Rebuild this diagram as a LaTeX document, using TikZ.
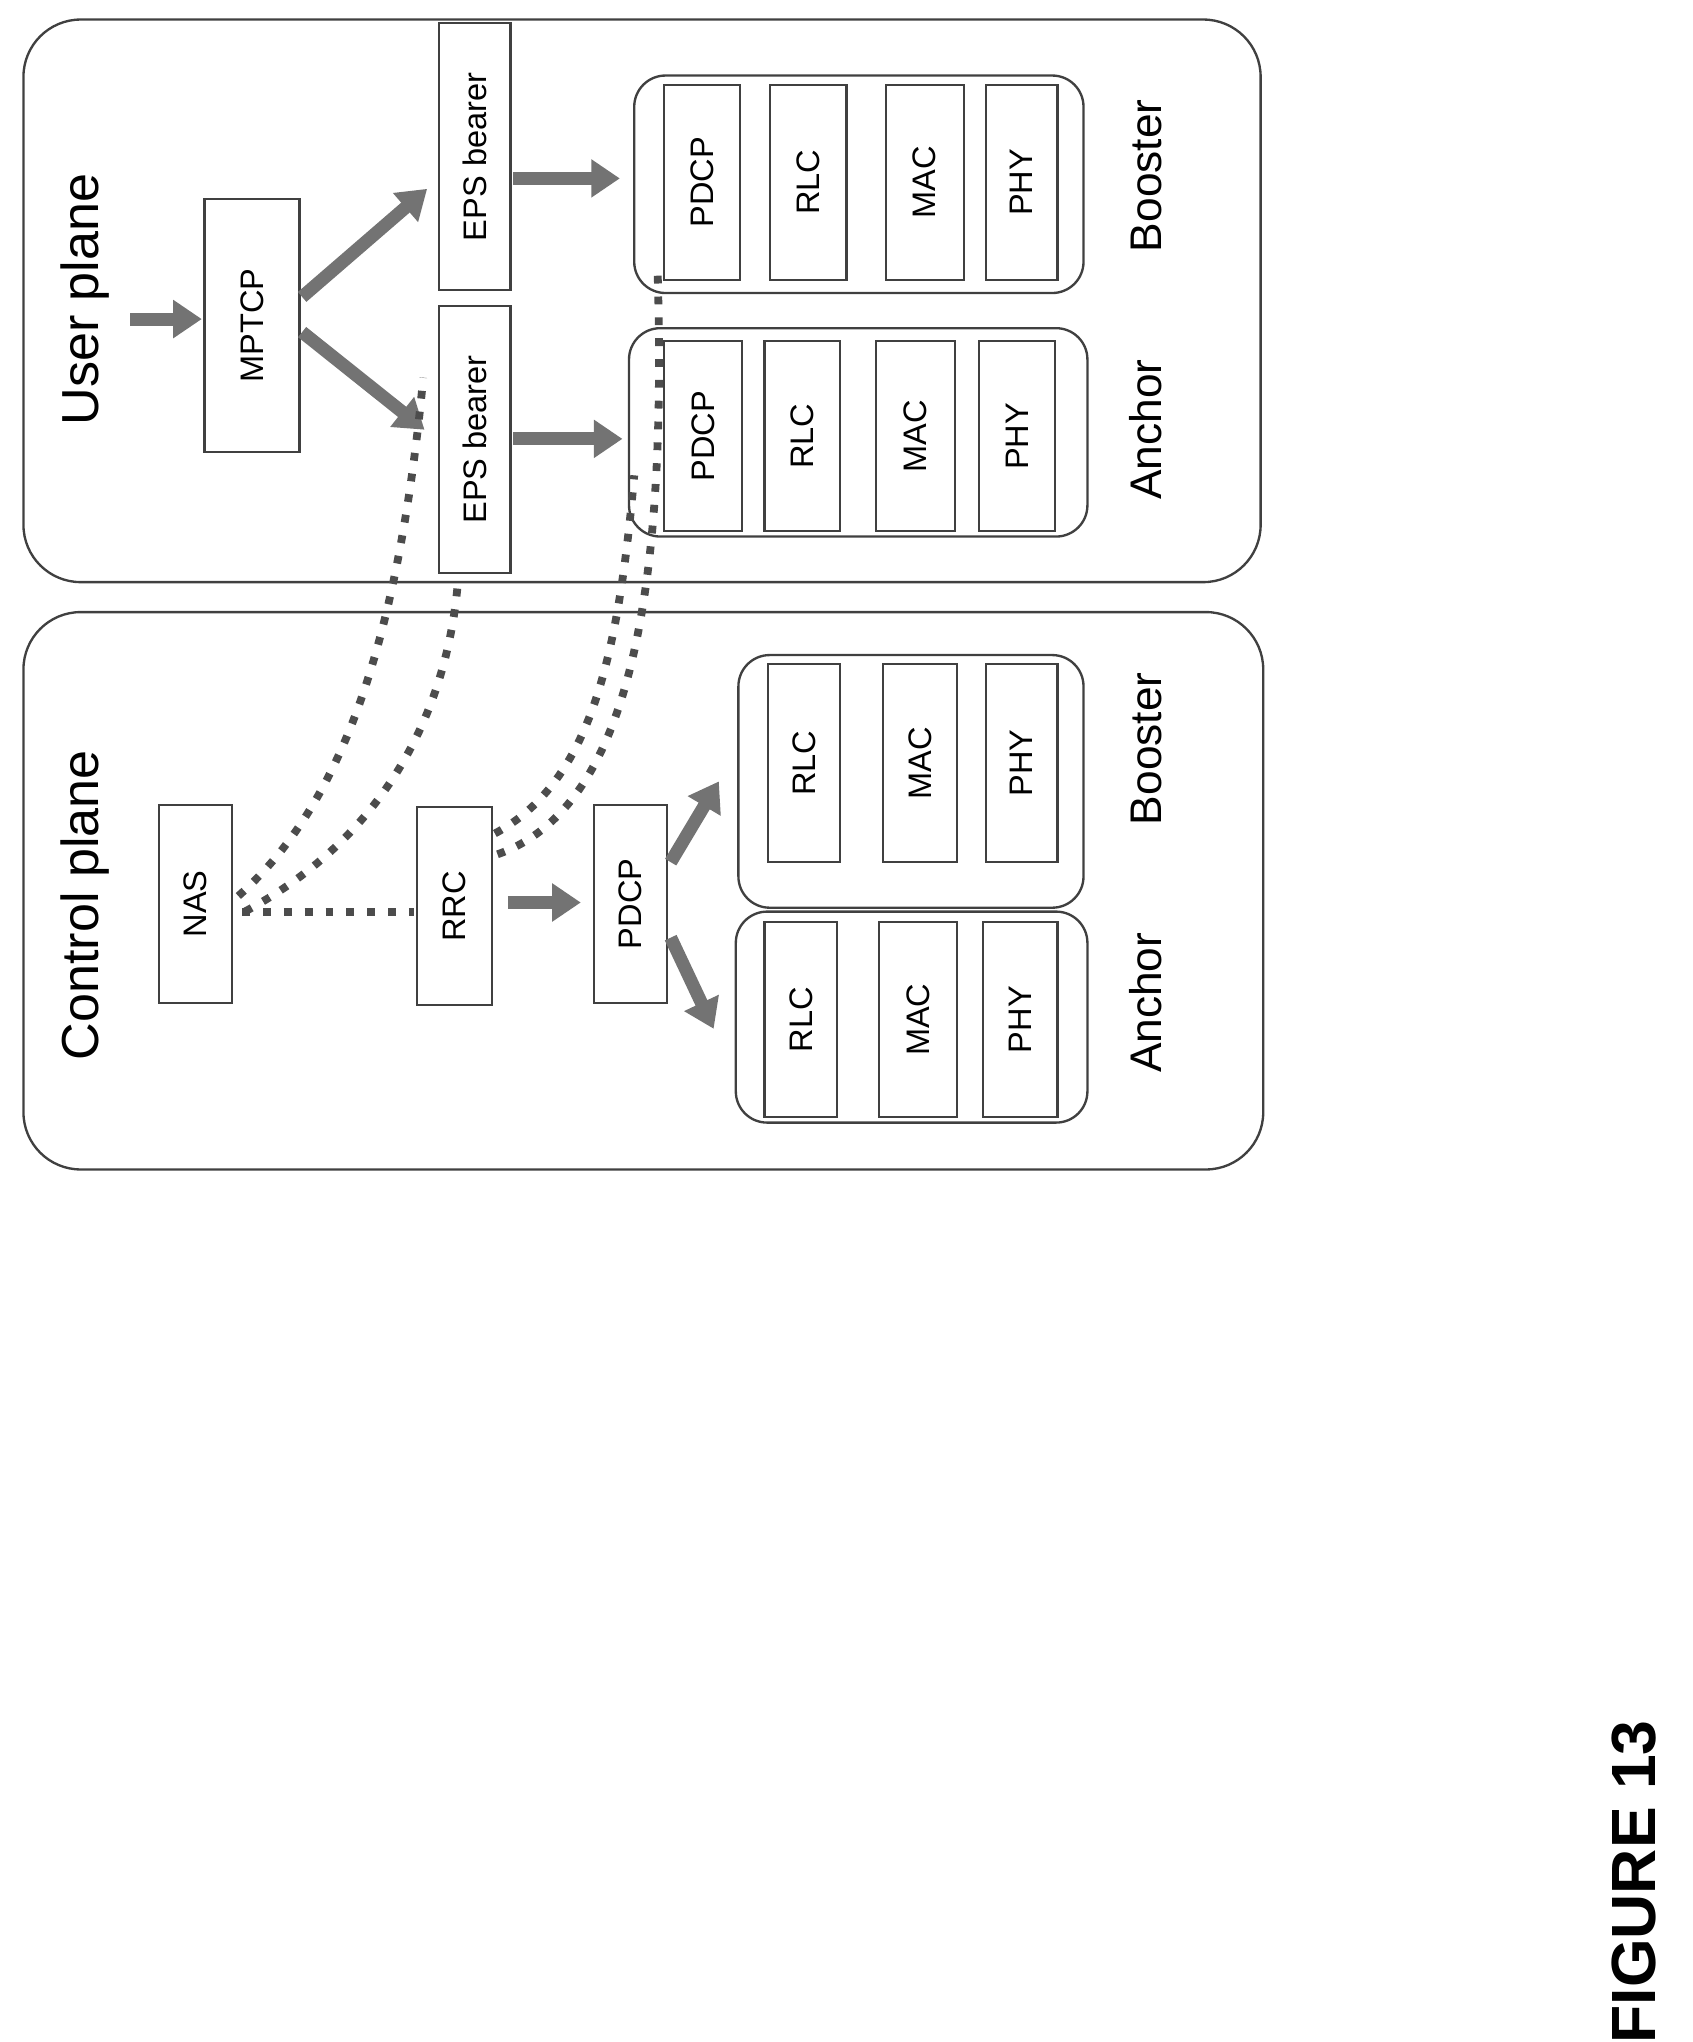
\documentclass[tikz,border=0pt]{standalone}
\usepackage{fontspec}
\setmainfont{Liberation Sans}
\usetikzlibrary{fit,arrows.meta}
\begin{document}
\begin{tikzpicture}[x=0.5pt,y=-0.5pt,
  frame/.style={draw=black!75,line width=0.9pt,rounded corners=22pt,inner sep=0pt},
  grp/.style={draw=black!75,line width=0.9pt,rounded corners=12pt,inner sep=0pt},
  box/.style={draw=black!75,line width=0.8pt,inner sep=0pt},
  lbl/.style={rotate=90,font=\fontsize{12.5}{14}\selectfont},
  big/.style={rotate=90,font=\fontsize{17}{20}\selectfont},
  title/.style={rotate=90,font=\fontsize{20}{24}\selectfont},
  fat/.style={draw=black!55,line width=5pt,-{Triangle[length=11pt,width=14pt]}},
  sig/.style={draw=black!70,line width=3pt,dash pattern=on 3pt off 5pt}]
\useasboundingbox (0,0) rectangle (1300,1568);
% frames
\node[frame,fit={(18,15)(968,447)}] (up) {};
\node[frame,fit={(18,470)(970,898)}] (cp) {};
\node[title] at (65,230) {User plane};
\node[title] at (65,695) {Control plane};
% user plane
\node[box,fit={(157,153)(230,347)}] (mptcp) {};\node[lbl] at (mptcp) {MPTCP};
\node[box,fit={(337,18)(392,223)}] (eps1) {};\node[lbl] at (eps1) {EPS bearer};
\node[box,fit={(337,235)(392,440)}] (eps2) {};\node[lbl] at (eps2) {EPS bearer};
\node[grp,fit={(487,58)(832,225)}] (bup) {};
\node[box,fit={(510,65)(568,215)}] (b1) {};\node[lbl] at (b1) {PDCP};
\node[box,fit={(591,65)(650,215)}] (b2) {};\node[lbl] at (b2) {RLC};
\node[box,fit={(680,65)(740,215)}] (b3) {};\node[lbl] at (b3) {MAC};
\node[box,fit={(757,65)(812,215)}] (b4) {};\node[lbl] at (b4) {PHY};
\node[big] (blu) at (880,135) {Booster};
\node[grp,fit={(483,252)(835,412)}] (aup) {};
\node[box,fit={(510,262)(570,408)}] (a1) {};\node[lbl] at (a1) {PDCP};
\node[box,fit={(587,262)(645,408)}] (a2) {};\node[lbl] at (a2) {RLC};
\node[box,fit={(673,262)(733,408)}] (a3) {};\node[lbl] at (a3) {MAC};
\node[box,fit={(752,262)(810,408)}] (a4) {};\node[lbl] at (a4) {PHY};
\node[big] (alu) at (880,330) {Anchor};
\coordinate (in) at (100,245);
\coordinate (e1) at (394,137);
\coordinate (e2) at (394,337);
\draw[fat] (in) -- (155,245);
\draw[fat] (232,228) -- (328,145);
\draw[fat] (232,255) -- (326,330);
\draw[fat] (e1) -- (476,137);
\draw[fat] (e2) -- (478,337);
% control plane
\node[box,fit={(122,618)(178,770)}] (nas) {};\node[lbl] at (nas) {NAS};
\node[box,fit={(320,620)(378,772)}] (rrc) {};\node[lbl] at (rrc) {RRC};
\node[box,fit={(456,618)(512,770)}] (pdcp) {};\node[lbl] at (pdcp) {PDCP};
\node[grp,fit={(567,503)(832,697)}] (bcp) {};
\node[box,fit={(590,510)(645,662)}] (c1) {};\node[lbl] at (c1) {RLC};
\node[box,fit={(678,510)(735,662)}] (c2) {};\node[lbl] at (c2) {MAC};
\node[box,fit={(757,510)(812,662)}] (c3) {};\node[lbl] at (c3) {PHY};
\node[big] (blc) at (880,575) {Booster};
\node[grp,fit={(565,700)(835,862)}] (acp) {};
\node[box,fit={(587,708)(643,858)}] (d1) {};\node[lbl] at (d1) {RLC};
\node[box,fit={(675,708)(735,858)}] (d2) {};\node[lbl] at (d2) {MAC};
\node[box,fit={(755,708)(812,858)}] (d3) {};\node[lbl] at (d3) {PHY};
\node[big] (alc) at (880,770) {Anchor};
\draw[fat] (390,693) -- (446,693);
\draw[fat] (515,662) -- (552,600);
\draw[fat] (515,720) -- (548,790);
% signalling
\draw[sig] (186,700) -- (318,700);
\draw[sig] (183,688) .. controls (260,620) and (305,500) .. (325,290);
\draw[sig] (188,700) .. controls (300,640) and (345,540) .. (352,442);
\draw[sig] (380,640) .. controls (455,600) and (475,500) .. (487,365);
\draw[sig] (382,656) .. controls (485,620) and (512,450) .. (505,210);
\node[rotate=90,font=\fontsize{24}{28}\selectfont\bfseries] (fig) at (1255,1445) {FIGURE 13};
\end{tikzpicture}
\end{document}
